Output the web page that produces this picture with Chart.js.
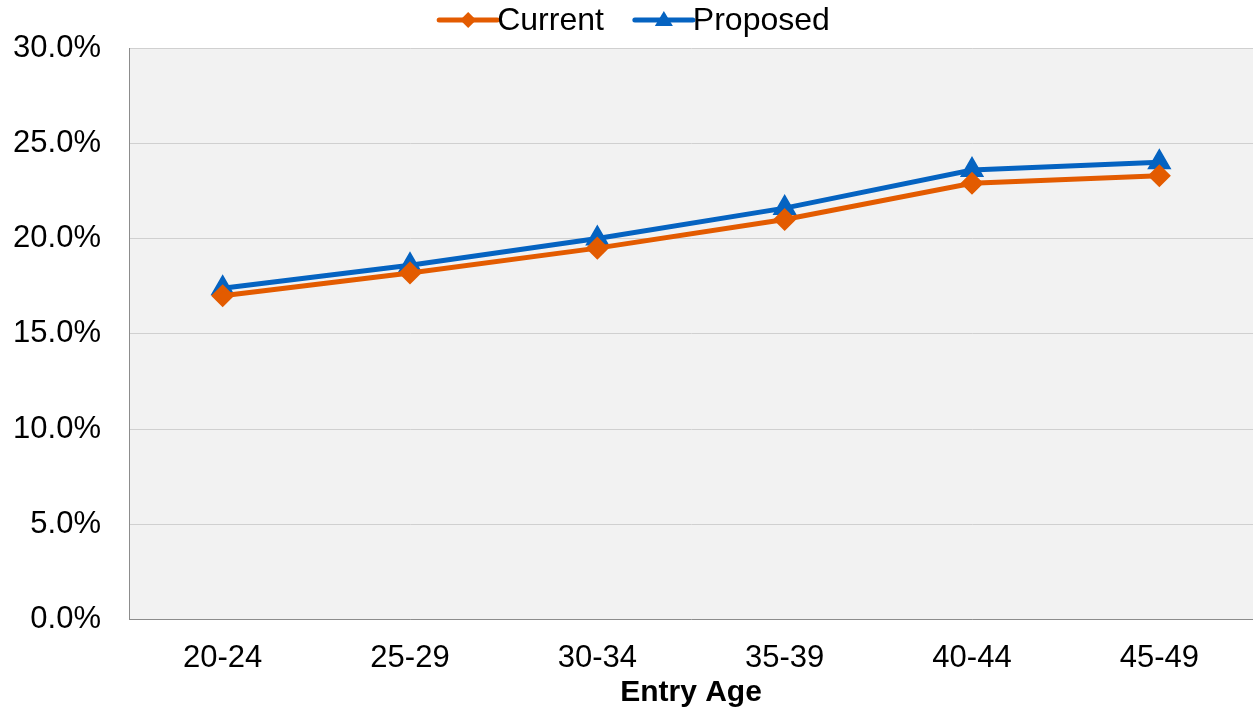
<!DOCTYPE html>
<html>
<head>
<meta charset="utf-8">
<script src="https://cdn.jsdelivr.net/npm/chart.js@4"></script>
<style>
  html, body { margin: 0; padding: 0; background: #fff; overflow: hidden; }
  canvas { display: block; }
</style>
</head>
<body>
<canvas id="rate-chart" width="1253" height="711"></canvas>
<script>
const ctx = document.getElementById('rate-chart');

// data (percent)
const entryAges = ['20-24', '25-29', '30-34', '35-39', '40-44', '45-49'];
const currentRates = [17.0, 18.2, 19.5, 21.0, 22.9, 23.3];
const proposedRates = [17.4, 18.6, 20.0, 21.6, 23.6, 24.0];
const yTicks = [0, 5, 10, 15, 20, 25, 30];

const orange = '#E35B00';
const blue = '#0563C1';
const font = 'Liberation Sans, Arial, sans-serif';

// grey plot area
const plotBg = {
    id: 'plotBg',
    beforeDraw(chart) {
        const { ctx, chartArea: a } = chart;
        ctx.save();
        ctx.fillStyle = '#f2f2f2';
        ctx.fillRect(a.left, a.top, a.right - a.left, a.bottom - a.top);
        ctx.restore();
    }
};

// legend with line + marker, like the office style
const lineLegend = {
    id: 'lineLegend',
    afterDraw(chart) {
        const c = chart.ctx;
        const items = chart.data.datasets;
        c.save();
        c.font = '32px ' + font;
        c.textBaseline = 'middle';
        const lineW = 58, gap = 0, between = 31;
        let widths = items.map(d => lineW + gap + c.measureText(d.label).width);
        let total = widths.reduce((s, w) => s + w, 0) + between * (items.length - 1);
        let x = (chart.width - total) / 2 + 8;
        const y = 20;
        items.forEach((d, i) => {
            c.strokeStyle = d.borderColor;
            c.lineWidth = 5;
            c.lineCap = 'round';
            c.beginPath();
            c.moveTo(x, y);
            c.lineTo(x + lineW, y);
            c.stroke();
            c.fillStyle = d.borderColor;
            const mx = x + lineW / 2;
            c.beginPath();
            if (d.pointStyle === 'rectRot') {
                c.moveTo(mx, y - 8); c.lineTo(mx + 8, y); c.lineTo(mx, y + 8); c.lineTo(mx - 8, y);
            } else {
                c.moveTo(mx, y - 9); c.lineTo(mx + 9, y + 6); c.lineTo(mx - 9, y + 6);
            }
            c.closePath();
            c.fill();
            c.fillStyle = '#000';
            c.fillText(d.label, x + lineW + gap, y + 1);
            x += widths[i] + between;
        });
        c.restore();
    }
};

new Chart(ctx, {
    type: 'line',
    data: {
        labels: entryAges,
        datasets: [{
            label: 'Current',
            data: currentRates,
            borderColor: orange,
            backgroundColor: orange,
            borderWidth: 5,
            pointStyle: 'rectRot',
            pointRadius: 8,
            pointHoverRadius: 8,
            tension: 0
        }, {
            label: 'Proposed',
            data: proposedRates,
            borderColor: blue,
            backgroundColor: blue,
            borderWidth: 5,
            pointStyle: 'triangle',
            pointRadius: 9,
            pointHoverRadius: 9,
            tension: 0
        }]
    },
    options: {
        responsive: false,
        animation: false,
        layout: { autoPadding: false, padding: { top: 48, right: 0, bottom: 0, left: 0 } },
        plugins: {
            legend: { display: false },
            tooltip: { enabled: false }
        },
        scales: {
            x: {
                offset: true,
                afterFit: axis => { axis.paddingRight = 0; axis.paddingLeft = 0; },
                grid: { display: false, drawTicks: false, offset: true },
                border: { color: '#8c8c8c', width: 1 },
                ticks: { color: '#000', font: { family: font, size: 31 }, padding: 20 },
                title: {
                    display: true,
                    text: 'Entry Age',
                    color: '#000',
                    font: { family: font, size: 30, weight: 'bold' },
                    padding: { top: -22, bottom: 0 }
                }
            },
            y: {
                min: 0,
                max: 30,
                afterBuildTicks: axis => { axis.ticks = yTicks.map(v => ({ value: v })); },
                afterFit: axis => { axis.width = 129; },
                grid: { color: '#d0d0d0', lineWidth: 1, drawTicks: false },
                border: { color: '#8c8c8c', width: 1 },
                ticks: {
                    color: '#000',
                    font: { family: font, size: 31 },
                    padding: 28,
                    callback: v => v.toFixed(1) + '%'
                }
            }
        }
    },
    plugins: [plotBg, lineLegend]
});
</script>
</body>
</html>
